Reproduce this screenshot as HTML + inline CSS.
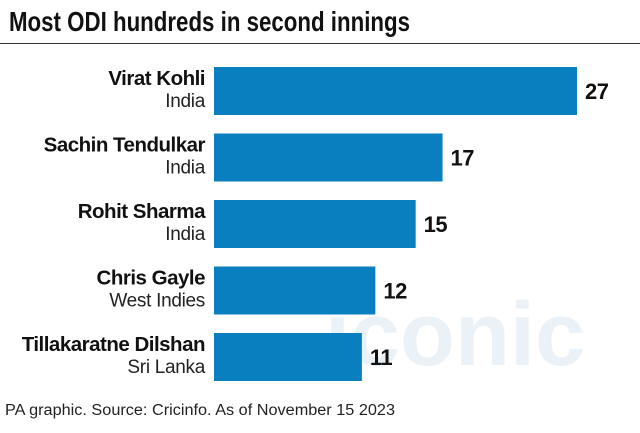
<!DOCTYPE html>
<html><head><meta charset="utf-8"><style>
body{margin:0;background:#fff;width:640px;height:428px;overflow:hidden;font-family:"Liberation Sans",sans-serif}
</style></head><body>
<svg width="640" height="428">
<text x="9" y="31" font-size="28" font-weight="bold" textLength="401" lengthAdjust="spacingAndGlyphs" fill="#111">Most ODI hundreds in second innings</text>
<line x1="0" y1="43.5" x2="640" y2="43.5" stroke="#333" stroke-width="1"/>
<text x="325" y="365" font-size="90" fill="#dde9f2" font-weight="bold" opacity="0.6">iconic</text>
<g id="bars"></g>
<text x="5" y="415" font-size="15.5" fill="#222" textLength="390" lengthAdjust="spacingAndGlyphs">PA graphic. Source: Cricinfo. As of November 15 2023</text>
</svg>
<script>
const names=["Virat Kohli","Sachin Tendulkar","Rohit Sharma","Chris Gayle","Tillakaratne Dilshan"];
const countries=["India","India","India","West Indies","Sri Lanka"];
const values=[27,17,15,12,11];
const x0=214,scale=363/27,top0=67,step=66.5,bh=48;
const xs=v=>x0+v*scale;
const g=document.getElementById('bars');
const NS="http://www.w3.org/2000/svg";
function mk(tag,attrs,txt){const e=document.createElementNS(NS,tag);for(const k in attrs)e.setAttribute(k,attrs[k]);if(txt!=null)e.textContent=txt;g.appendChild(e);return e;}
values.forEach((v,i)=>{
 const y=top0+i*step;
 const r=mk('rect',{x:x0,y:y,width:xs(v)-x0,height:bh,fill:'#0a7fc0'});
 
 
 const t=mk('text',{x:xs(v)+8,y:y+bh/2+8,'font-size':22,'font-weight':'bold',fill:'#111','letter-spacing':'-0.5'},v);
 
 
 const n=mk('text',{x:205,y:y+18,'font-size':20.5,'font-weight':'bold','text-anchor':'end',fill:'#111','letter-spacing':'-0.5'},names[i]);
 
 
 const c=mk('text',{x:205,y:y+40,'font-size':19,'text-anchor':'end',fill:'#222','letter-spacing':'-0.3'},countries[i]);
 
 
});
</script>
</body></html>
